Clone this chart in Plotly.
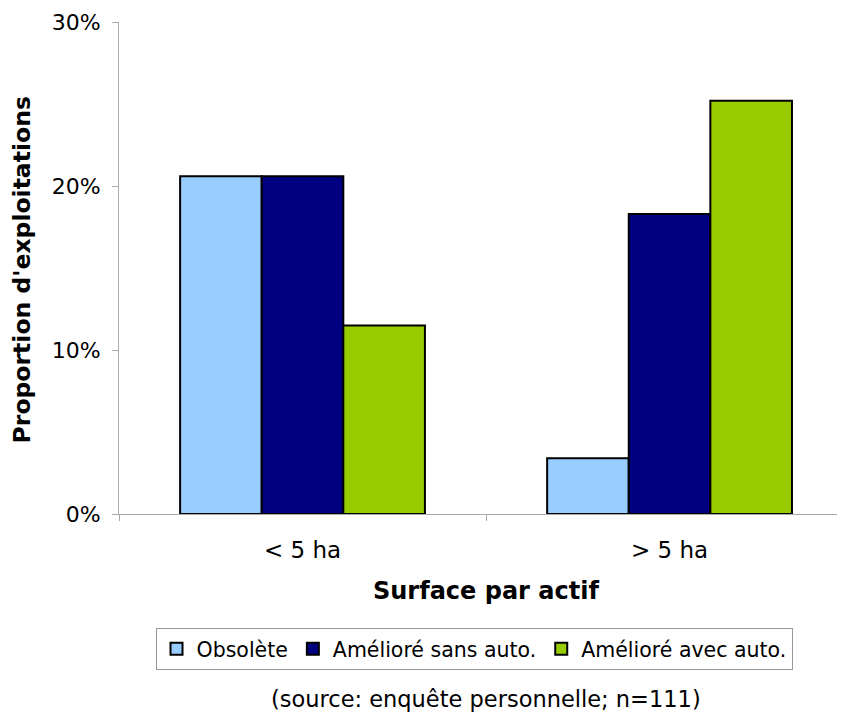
import plotly.graph_objects as go

# surface per worker classes
categories = ["< 5 ha", "> 5 ha"]

# share of farms (%) per equipment type
obsolete = [20.6, 3.4]
ameliore_sans_auto = [20.6, 18.3]
ameliore_avec_auto = [11.5, 25.2]

series_names = ["Obsolète", "Amélioré sans auto.", "Amélioré avec auto."]
series_colors = ["#99CCFF", "#000080", "#99CC00"]

y_ticks = [0, 10, 20, 30]
y_tick_labels = ["0%", "10%", "20%", "30%"]

FONT = "DejaVu Sans"

fig = go.Figure()
for name, values, color in zip(series_names, [obsolete, ameliore_sans_auto, ameliore_avec_auto], series_colors):
    fig.add_trace(
        go.Bar(
            x=categories,
            y=values,
            name=name,
            marker=dict(color=color, line=dict(color="black", width=2)),
        )
    )

# the page body adds 8px around the figure, margins compensate for it
fig.update_layout(
    width=845,
    height=713,
    margin=dict(l=111, r=8, t=14, b=207),
    paper_bgcolor="white",
    plot_bgcolor="white",
    barmode="group",
    bargap=0.333,
    bargroupgap=0,
    font=dict(family=FONT, size=22, color="black"),
    showlegend=True,
    legend=dict(
        orientation="h",
        x=0.489,
        xanchor="center",
        y=-0.274,
        yanchor="middle",
        bordercolor="#999999",
        borderwidth=1,
        font=dict(size=20.5),
        itemsizing="constant",
        tracegroupgap=0,
    ),
    xaxis=dict(
        range=[-0.5, 1.478],
        automargin=False,
        showline=True,
        linecolor="#aaaaaa",
        linewidth=1,
        ticks="outside",
        tickson="boundaries",
        ticklen=6,
        tickcolor="#aaaaaa",
        tickfont=dict(size=23),
        ticklabelstandoff=15,
        showgrid=False,
        zeroline=False,
    ),
    yaxis=dict(
        range=[0, 30],
        automargin=False,
        tickvals=y_ticks,
        ticktext=y_tick_labels,
        showline=True,
        linecolor="#aaaaaa",
        linewidth=1,
        ticks="outside",
        ticklen=6,
        tickcolor="#aaaaaa",
        tickfont=dict(size=22),
        ticklabelstandoff=7,
        showgrid=False,
        zeroline=False,
    ),
    annotations=[
        dict(
            text="<b>Proportion d'exploitations</b>",
            x=-0.133, y=0.496, xref="paper", yref="paper",
            xanchor="center", yanchor="middle",
            textangle=-90, showarrow=False,
            font=dict(size=23.5),
        ),
        dict(
            text="<b>Surface par actif</b>",
            x=0.506, y=-0.156, xref="paper", yref="paper",
            xanchor="center", yanchor="middle",
            showarrow=False, font=dict(size=24),
        ),
        dict(
            text="(source: enquête personnelle; n=111)",
            x=0.506, y=-0.377, xref="paper", yref="paper",
            xanchor="center", yanchor="middle",
            showarrow=False, font=dict(size=22.5),
        ),
    ],
)

fig.write_html("out.html")
